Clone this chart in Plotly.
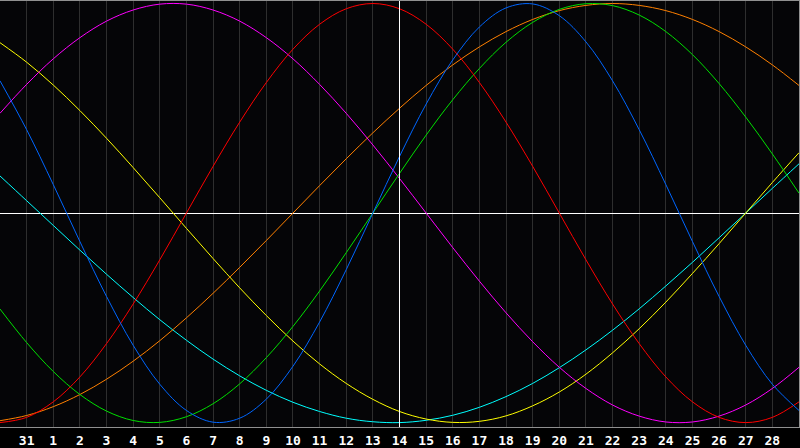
import plotly.graph_objects as go

# day labels across the window (30 Jan .. 1 Mar), only 1..29 are shown as ticks
day_labels = ["30", "31"] + [str(d) for d in range(1, 29)] + ["1"]
days = list(range(len(day_labels)))
today = day_labels.index("14", 2)

# biorhythm values at each day
physical = [0.631, 0.398, 0.136, -0.136, -0.398, -0.631, -0.817, -0.942, -0.998, -0.979,
            -0.888, -0.731, -0.520, -0.270, 0.0, 0.270, 0.520, 0.731, 0.888, 0.979,
            0.998, 0.942, 0.817, 0.631, 0.398, 0.136, -0.136, -0.398, -0.631, -0.817, -0.942]
emotional = [-1.0, -0.975, -0.901, -0.782, -0.623, -0.434, -0.223, 0.0, 0.223, 0.434,
             0.623, 0.782, 0.901, 0.975, 1.0, 0.975, 0.901, 0.782, 0.623, 0.434,
             0.223, 0.0, -0.223, -0.434, -0.623, -0.782, -0.901, -0.975, -1.0, -0.975, -0.901]
intellectual = [-0.458, -0.618, -0.756, -0.866, -0.945, -0.990, -0.999, -0.972, -0.910, -0.815,
                -0.690, -0.541, -0.372, -0.189, 0.0, 0.189, 0.372, 0.541, 0.690, 0.815,
                0.910, 0.972, 0.999, 0.990, 0.945, 0.866, 0.756, 0.618, 0.458, 0.282, 0.095]
intuitive = [0.476, 0.614, 0.736, 0.837, 0.916, 0.969, 0.997, 0.997, 0.969, 0.916,
             0.837, 0.736, 0.614, 0.476, 0.325, 0.165, 0.0, -0.165, -0.325, -0.476,
             -0.614, -0.736, -0.837, -0.916, -0.969, -0.997, -0.997, -0.969, -0.916, -0.837, -0.736]
aesthetic = [0.813, 0.720, 0.611, 0.489, 0.357, 0.217, 0.073, -0.073, -0.217, -0.357,
             -0.489, -0.611, -0.720, -0.813, -0.889, -0.947, -0.983, -0.999, -0.994, -0.968,
             -0.920, -0.854, -0.769, -0.667, -0.552, -0.425, -0.288, -0.146, 0.0, 0.146, 0.288]
awareness = [-0.991, -0.966, -0.924, -0.866, -0.793, -0.707, -0.609, -0.500, -0.383, -0.259,
             -0.131, 0.0, 0.131, 0.259, 0.383, 0.500, 0.609, 0.707, 0.793, 0.866,
             0.924, 0.966, 0.991, 1.0, 0.991, 0.966, 0.924, 0.866, 0.793, 0.707, 0.609]
spiritual = [0.177, 0.059, -0.059, -0.177, -0.292, -0.403, -0.509, -0.607, -0.697, -0.777,
             -0.846, -0.903, -0.947, -0.979, -0.996, -1.0, -0.989, -0.965, -0.927, -0.876,
             -0.813, -0.738, -0.653, -0.559, -0.457, -0.348, -0.235, -0.118, 0.0, 0.118, 0.235]

series = [
    ("Spiritual", spiritual, "#00ffff"),
    ("Aesthetic", aesthetic, "#ffff00"),
    ("Awareness", awareness, "#ff8000"),
    ("Intuitive", intuitive, "#ff00ff"),
    ("Intellectual", intellectual, "#00e000"),
    ("Emotional", emotional, "#ff0000"),
    ("Physical", physical, "#0066ff"),
]

fig = go.Figure()
for name, vals, col in series:
    fig.add_trace(go.Scatter(x=days, y=vals, name=name, mode="lines",
                             line=dict(color=col, width=1, shape="spline"),
                             hoverinfo="skip"))

# today marker
fig.add_vline(x=today, line_color="white", line_width=1)

fig.update_layout(
    width=800, height=448,
    margin=dict(l=0, r=0, t=0, b=20),
    paper_bgcolor="#000000",
    plot_bgcolor="#050507",
    showlegend=False,
    font=dict(family="DejaVu Sans Mono", color="white", size=13),
)
fig.update_xaxes(
    range=[0, 30],
    tickvals=days[1:30], ticktext=day_labels[1:30],
    tickfont=dict(family="DejaVu Sans Mono", size=13, color="white", weight="bold"),
    showgrid=True, gridcolor="#2e2e2e", gridwidth=1,
    showline=True, linecolor="#909090", linewidth=1, mirror=True,
    ticks="", ticklabelstandoff=1, zeroline=False, fixedrange=True,
)
fig.update_yaxes(
    range=[-1.021, 1.012],
    showticklabels=False, showgrid=False,
    zeroline=True, zerolinecolor="white", zerolinewidth=1,
    showline=True, linecolor="#909090", linewidth=1, mirror=True,
    fixedrange=True,
)

# drop the page's default body margin so the figure sits at the window's corner
fig.write_html("out.html", config={"displayModeBar": False},
               post_script="document.body.style.margin='0';document.body.style.background='#000';")
